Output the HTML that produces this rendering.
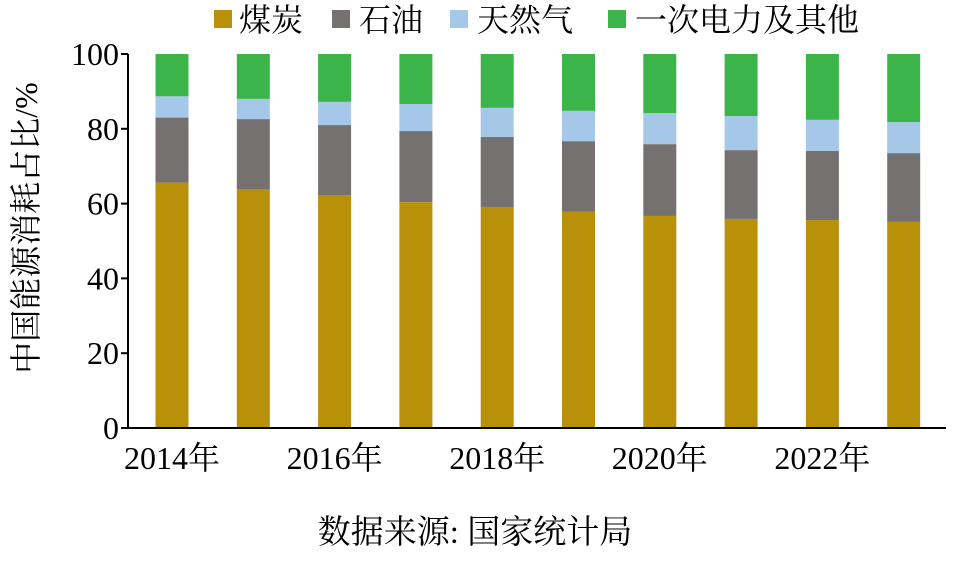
<!DOCTYPE html>
<html><head><meta charset="utf-8"><style>
body{margin:0;background:#fff;}
svg text{font-family:"Liberation Serif","Noto Serif CJK SC",serif;fill:#000;}
</style></head><body>
<svg width="961" height="563" viewBox="0 0 961 563">
<g id="legend">
 <g><rect x="214" y="10" width="18" height="18" fill="#B8900A"/><text x="239" y="31" font-size="32">煤炭</text></g>
 <g><rect x="332" y="10" width="18" height="18" fill="#767171"/><text x="359" y="31" font-size="32">石油</text></g>
 <g><rect x="450" y="10" width="18" height="18" fill="#A5C8E8"/><text x="477" y="31" font-size="32">天然气</text></g>
 <g><rect x="608" y="10" width="18" height="18" fill="#3BB54A"/><text x="635" y="31" font-size="32">一次电力及其他</text></g>
</g>
<g id="bars"></g>
<g id="axes"></g>
<text transform="translate(37,228) rotate(-90)" text-anchor="middle" font-size="32">中国能源消耗占比/%</text>
<text x="475" y="543" text-anchor="middle" font-size="33">数据来源: 国家统计局</text>
</svg>
<script>
const years = ["2014年","2015年","2016年","2017年","2018年","2019年","2020年","2021年","2022年","2023年"];
const coal = [65.6,63.9,62.3,60.4,59.1,57.8,56.7,55.9,55.6,55.1];
const oil = [17.4,18.7,18.7,19.0,18.7,18.9,19.2,18.4,18.5,18.4];
const gas = [5.7,5.4,6.2,7.2,7.8,8.1,8.3,9.1,8.3,8.3];
const yTicks = [0,20,40,60,80,100];
const NS="http://www.w3.org/2000/svg";
const x0=128,x1=946,y0=428,y1=54;
const step=81.3;
const xc=i=>x0+44+step*i;
const y=v=>y0-(v/100)*(y0-y1);
const bw=33;
const bars=document.getElementById('bars');
function rect(xp,ya,yb,fill,name){
 const r=document.createElementNS(NS,'rect');
 r.setAttribute('x',xp-bw/2);r.setAttribute('y',y(yb));
 r.setAttribute('width',bw);r.setAttribute('height',y(ya)-y(yb));
 r.setAttribute('fill',fill);
 
 
 bars.appendChild(r);
}
years.forEach((yr,i)=>{
 const a=coal[i],b=a+oil[i],c=b+gas[i];
 rect(xc(i),0,a,'#B8900A','bar-coal-'+i);
 rect(xc(i),a,b,'#767171','bar-oil-'+i);
 rect(xc(i),b,c,'#A5C8E8','bar-gas-'+i);
 rect(xc(i),c,100,'#3BB54A','bar-other-'+i);
});
const axes=document.getElementById('axes');
function line(a,b,c,d,name){
 const l=document.createElementNS(NS,'line');
 l.setAttribute('x1',a);l.setAttribute('y1',b);l.setAttribute('x2',c);l.setAttribute('y2',d);
 l.setAttribute('stroke','#000');l.setAttribute('stroke-width','2');
 
 
 axes.appendChild(l);
}
line(x0,y1,x0,y0+1,'y-axis-line');
line(x0,y0,x1,y0,'x-axis-line');
yTicks.forEach(v=>{
 line(x0-7,y(v),x0,y(v),'y-tick');
 const t=document.createElementNS(NS,'text');
 t.setAttribute('x',x0-9);t.setAttribute('y',y(v)+11);
 t.setAttribute('text-anchor','end');t.setAttribute('font-size','32');
 t.textContent=v;
 
 
 axes.appendChild(t);
});
years.forEach((yr,i)=>{
 if(i%2) return;
 const t=document.createElementNS(NS,'text');
 t.setAttribute('x',xc(i));t.setAttribute('y',469);
 t.setAttribute('text-anchor','middle');t.setAttribute('font-size','32');
 t.textContent=yr;
 
 
 axes.appendChild(t);
});
</script>
</body></html>
